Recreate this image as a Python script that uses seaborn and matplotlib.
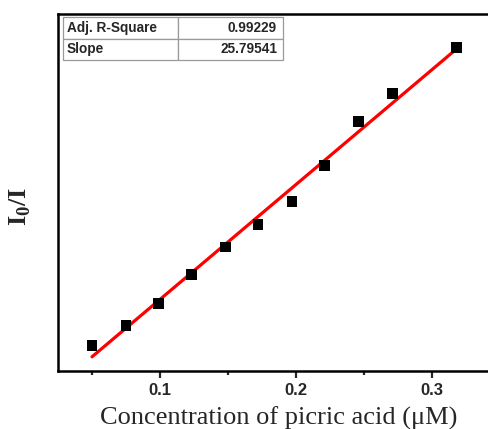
import matplotlib
matplotlib.use("Agg")
import matplotlib.pyplot as plt
import seaborn as sns
import numpy as np
import pandas as pd

# ---- data ----
concentration = [0.050, 0.075, 0.099, 0.123, 0.148, 0.172, 0.197, 0.221, 0.246, 0.271, 0.318]
ratio = [2.57, 3.02, 3.51, 4.16, 4.78, 5.28, 5.79, 6.60, 7.59, 8.21, 9.25]
x_ticks = [0.1, 0.2, 0.3]
x_tick_labels = ["0.1", "0.2", "0.3"]
table_rows = [["Adj. R-Square", "0.99229"], ["Slope", "25.79541"]]

df = pd.DataFrame({"c": concentration, "r": ratio})

sns.set_style("white")
plt.rcParams["font.family"] = ["Liberation Sans", "DejaVu Sans"]

W, H = 489, 429
fig = plt.figure(figsize=(W / 100, H / 100), dpi=100)
L, R, T, B = 58, 500, 14, 371
ax = fig.add_axes([L / W, (H - B) / H, (R - L) / W, (B - T) / H])

sns.regplot(data=df, x="c", y="r", ax=ax, ci=None, marker="s",
            scatter_kws=dict(color="black", s=60, edgecolor="none", zorder=3, alpha=1),
            line_kws=dict(color="#ff0000", lw=2.3, zorder=2))

ax.set_xlim(0.025, 0.35)
ax.set_ylim(2, 10)
ax.set_yticks([])
ax.set_xticks(x_ticks)
ax.set_xticklabels(x_tick_labels, fontsize=12, fontweight="bold")
ax.set_xticks([0.05, 0.15, 0.25, 0.35], minor=True)
ax.tick_params(axis="x", which="major", direction="out", length=5, width=1.6, pad=3.5, bottom=True)
ax.tick_params(axis="x", which="minor", direction="out", length=3, width=1.6, bottom=True)

for s in ax.spines.values():
    s.set_linewidth(1.8)
    s.set_color("black")

ax.set_xlabel("Concentration of picric acid (\u03bcM)", fontsize=19,
              family=["Liberation Serif", "DejaVu Serif"], labelpad=6)
ax.set_ylabel(r"I$_\mathregular{0}$/I", fontsize=19, fontweight="bold",
              family=["Liberation Serif", "DejaVu Serif"])
ax.yaxis.set_label_coords(-0.056, 0.46)

# ---- info table ----
tx0 = (63 - L) / (R - L)
tx1 = (283 - L) / (R - L)
ty1 = (B - 17) / (B - T)
ty0 = (B - 60) / (B - T)
tbl = ax.table(cellText=table_rows, bbox=[tx0, ty0, tx1 - tx0, ty1 - ty0],
               colWidths=[115, 105], zorder=5)
tbl.auto_set_font_size(False)
tbl.set_fontsize(9.8)
for (r, c), cell in tbl.get_celld().items():
    cell.set_edgecolor("#9a9a9a")
    cell.set_linewidth(0.9)
    cell.get_text().set_fontweight("bold")
    if c == 0:
        cell.get_text().set_ha("left")
        cell._loc = "left"
        cell.PAD = 0.035
    else:
        cell.get_text().set_ha("right")
        cell._loc = "right"
        cell.PAD = 0.057

fig.savefig("out.png", dpi=100)
